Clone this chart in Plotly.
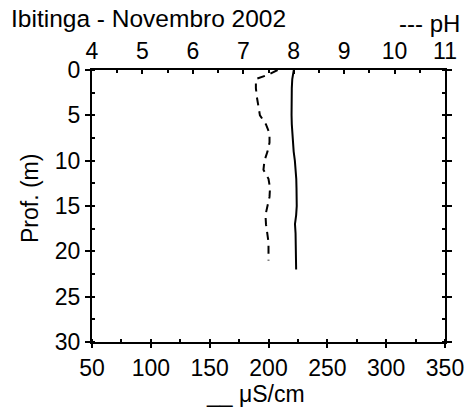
import plotly.graph_objects as go

# Conductivity profile (solid line)
cond_depth = [0, 1, 2, 3, 4, 5, 6, 7, 8, 9, 10, 11, 12, 13, 14, 15, 16, 17, 18, 19, 20, 21, 22]
cond_values = [221.5, 220.2, 219.8, 219.6, 219.5, 219.6, 219.8, 220.2, 220.6, 221.4, 222.4, 223.2, 223.6,
               223.8, 224.0, 224.0, 223.5, 222.5, 223.0, 223.2, 223.3, 223.5, 223.5]

# pH profile (dashed line)
ph_depth = [0, 0.5, 1, 2, 3, 4, 5, 6, 7, 8, 9, 10, 11, 12, 13, 14, 15, 16, 17, 18, 19, 20, 21]
ph_values = [7.68, 7.5, 7.25, 7.25, 7.27, 7.3, 7.33, 7.45, 7.52, 7.52, 7.48, 7.42, 7.4, 7.5,
             7.53, 7.52, 7.48, 7.44, 7.45, 7.48, 7.5, 7.5, 7.5]

FONT = "Liberation Sans, Arial, sans-serif"
W, H = 471, 412
L, R, T, B = 92, 26, 70, 70
pw, ph_ = W - L - R, H - T - B

def px(x):
    return (x - L) / pw

def py(y):
    return (H - B - y) / ph_

fig = go.Figure()
fig.add_trace(go.Scatter(x=cond_values, y=cond_depth, mode="lines",
                         line=dict(color="black", width=2), xaxis="x", yaxis="y",
                         showlegend=False))
fig.add_trace(go.Scatter(x=ph_values, y=ph_depth, mode="lines",
                         line=dict(color="black", width=2, dash="8px,6px"), xaxis="x2", yaxis="y",
                         showlegend=False))

axis_common = dict(showline=True, linecolor="black", linewidth=2, showgrid=False, zeroline=False,
                   automargin=False,
                   tickfont=dict(family=FONT, size=23, color="black"), tickcolor="black")

fig.update_layout(
    width=W, height=H,
    margin=dict(l=L, r=R, t=T, b=B, autoexpand=False),
    paper_bgcolor="white", plot_bgcolor="white",
    xaxis=dict(range=[50, 350], dtick=50, tick0=50, ticks="outside", ticklen=4, tickwidth=1.5,
               minor=dict(dtick=25, ticks="inside", ticklen=3, tickcolor="black", tickwidth=1.5),
               **axis_common),
    xaxis2=dict(range=[4, 11], dtick=1, tick0=4, overlaying="x", side="top", anchor="y",
                ticks="inside", ticklen=4, tickwidth=1.5,
                minor=dict(dtick=0.5, ticks="inside", ticklen=3, tickcolor="black", tickwidth=1.5),
                **axis_common),
    yaxis=dict(range=[30, 0], dtick=5, tick0=0, ticks="outside", ticklen=5, tickwidth=1.5,
               mirror="ticks",
               minor=dict(dtick=2.5, ticks="inside", ticklen=3, tickcolor="black", tickwidth=1.5),
               **axis_common),
    annotations=[
        dict(text="Ibitinga - Novembro 2002", xref="paper", yref="paper", x=px(9), y=py(18),
             xanchor="left", yanchor="middle", showarrow=False,
             font=dict(family=FONT, size=24.5, color="black")),
        dict(text="--- pH", xref="paper", yref="paper", x=px(462), y=py(24),
             xanchor="right", yanchor="middle", showarrow=False,
             font=dict(family=FONT, size=24, color="black")),
        dict(text="__ μS/cm", xref="paper", yref="paper", x=px(255), y=py(394),
             xanchor="center", yanchor="middle", showarrow=False,
             font=dict(family=FONT, size=23, color="black")),
        dict(text="Prof. (m)", xref="paper", yref="paper", x=px(30), y=py(199),
             xanchor="center", yanchor="middle", showarrow=False, textangle=-90,
             font=dict(family=FONT, size=23, color="black")),
    ],
)

fig.write_html("out.html")
